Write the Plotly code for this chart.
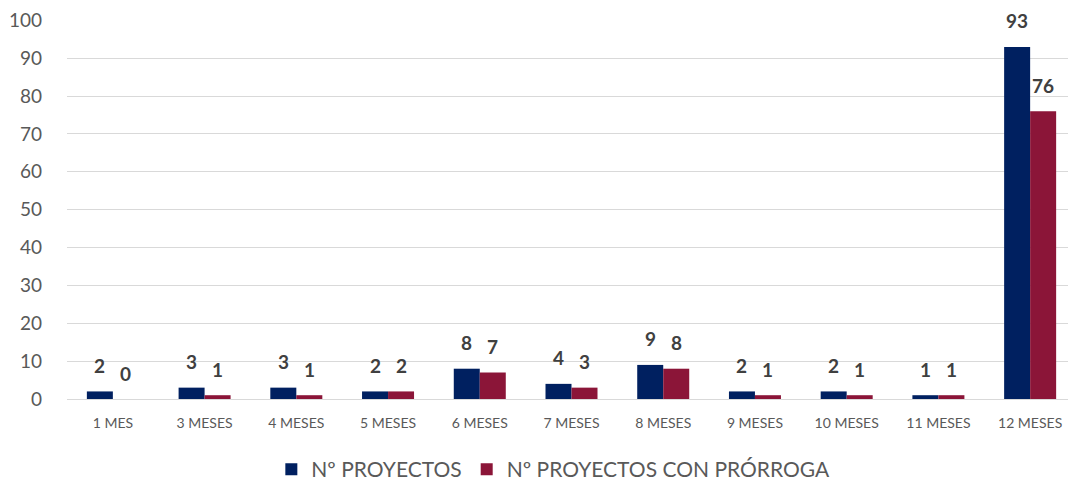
import plotly.graph_objects as go

categories = ["1 MES", "3 MESES", "4 MESES", "5 MESES", "6 MESES", "7 MESES",
              "8 MESES", "9 MESES", "10 MESES", "11 MESES", "12 MESES"]
proyectos = [2, 3, 3, 2, 8, 4, 9, 2, 2, 1, 93]
prorroga = [0, 1, 1, 2, 7, 3, 8, 1, 1, 1, 76]
y_ticks = [0, 10, 20, 30, 40, 50, 60, 70, 80, 90, 100]

FONT = "Lato, Carlito, Open Sans, sans-serif"
LABEL_FONT = dict(size=19, color="#404040", family=FONT, weight="bold")

fig = go.Figure()
fig.add_trace(go.Bar(
    x=categories, y=proyectos, name="Nº PROYECTOS",
    marker_color="#002060", marker_line_width=0,
))
fig.add_trace(go.Bar(
    x=categories, y=prorroga, name="Nº PROYECTOS CON PRÓRROGA",
    marker_color="#8B1538", marker_line_width=0,
))

annotations = []
for series, shift in ((proyectos, -13), (prorroga, 13)):
    for cat, val in zip(categories, series):
        annotations.append(dict(
            x=cat, y=val, xref="x", yref="y", text=str(val), showarrow=False,
            xshift=shift, yshift=26, yanchor="middle", font=LABEL_FONT,
        ))

fig.update_layout(
    width=1068, height=475,
    margin=dict(l=59, r=0, t=12, b=84, autoexpand=False),
    paper_bgcolor="white", plot_bgcolor="white",
    barmode="group", bargap=0.433, bargroupgap=0,
    font=dict(family=FONT, color="#595959"),
    legend=dict(orientation="h", x=0.482, xanchor="center", y=-0.186, yanchor="middle",
                font=dict(size=21, color="#595959"), itemwidth=30,
                traceorder="normal"),
    annotations=annotations,
)
fig.update_xaxes(
    tickfont=dict(size=14, color="#595959"), showgrid=False, automargin=False,
    showline=True, linecolor="#d9d9d9", linewidth=1, ticks="",
    ticklabelstandoff=11,
)
fig.update_yaxes(
    range=[0, 100.1], tickvals=y_ticks, tickfont=dict(size=19, color="#595959"),
    showgrid=True, gridcolor="#d9d9d9", gridwidth=1, zeroline=False,
    showline=False, ticklabelstandoff=24, automargin=False,
)

fig.write_html("out.html")
